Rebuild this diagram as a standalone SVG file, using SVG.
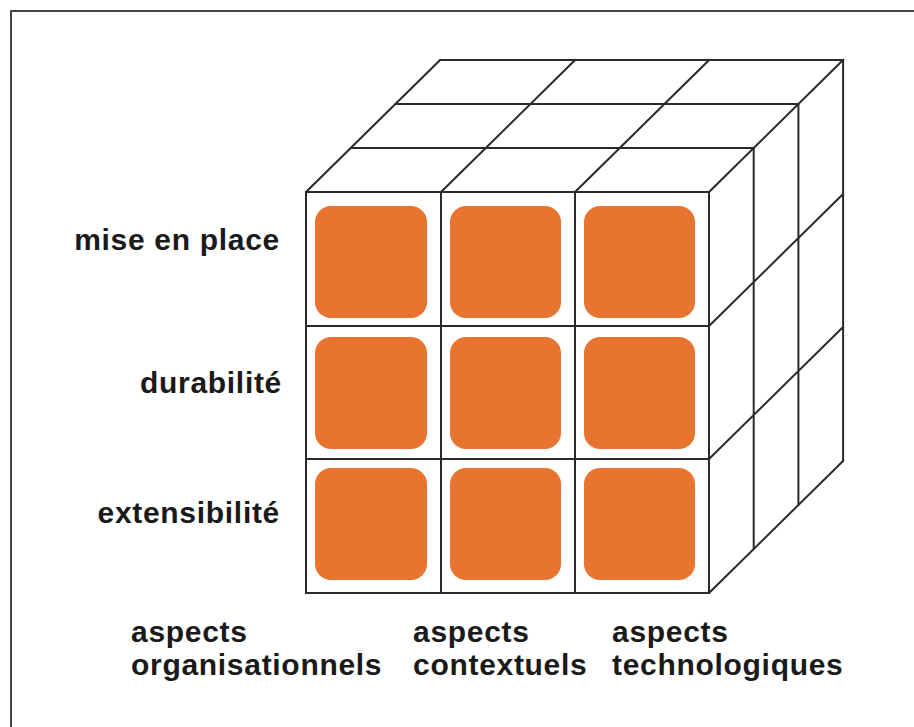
<svg xmlns="http://www.w3.org/2000/svg" width="914" height="727" viewBox="0 0 914 727">
<style>
.frame{fill:none;stroke:#444;stroke-width:2}
.edge{fill:none;stroke:#2a2a2a;stroke-width:2;stroke-linejoin:miter;stroke-linecap:square}
.tile{fill:#E97430}
.lbl{font-family:"Liberation Sans",Arial,sans-serif;font-weight:bold;font-size:30px;letter-spacing:0.7px;fill:#1a1a1a}
</style>
<rect width="914" height="727" fill="#fff"/>
<g id="frame">
<path class="frame" d="M11,727 V11 H914"/>
</g>
<g id="cube">
<path class="edge" d="M306,192 H709 V593 H306 Z M441,192 V593 M575,192 V593 M306,326 H709 M306,459 H709"/>
<path class="edge" d="M350.7,148 H753.7 M395.4,104 H798.4 M440.1,60 H843.1 M306,192 L440.1,60 M441,192 L575.1,60 M575,192 L709.1,60 M709,192 L843.1,60"/>
<path class="edge" d="M753.7,148 V549 M798.4,104 V505 M843.1,60 V461 M709,326 L843.1,194 M709,459 L843.1,327 M709,593 L843.1,461"/>
</g>
<g id="tiles">
<rect id="t11" class="tile" x="315" y="206" width="112" height="112" rx="16"/>
<rect id="t12" class="tile" x="450" y="206" width="111" height="112" rx="16"/>
<rect id="t13" class="tile" x="584" y="206" width="111" height="112" rx="16"/>
<rect id="t21" class="tile" x="315" y="337" width="112" height="112" rx="16"/>
<rect id="t22" class="tile" x="450" y="337" width="111" height="112" rx="16"/>
<rect id="t23" class="tile" x="584" y="337" width="111" height="112" rx="16"/>
<rect id="t31" class="tile" x="315" y="468" width="112" height="112" rx="16"/>
<rect id="t32" class="tile" x="450" y="468" width="111" height="112" rx="16"/>
<rect id="t33" class="tile" x="584" y="468" width="111" height="112" rx="16"/>
</g>
<g id="row-labels">
<text id="lbl-mise" class="lbl" x="280" y="250" text-anchor="end">mise en place</text>
<text id="lbl-dura" class="lbl" x="282" y="393" text-anchor="end">durabilité</text>
<text id="lbl-ext" class="lbl" x="280" y="523" text-anchor="end">extensibilité</text>
</g>
<g id="col-labels">
<text id="lbl-org" class="lbl" x="131" y="642"><tspan x="131">aspects</tspan><tspan x="131" y="675">organisationnels</tspan></text>
<text id="lbl-ctx" class="lbl" x="413" y="642"><tspan x="413">aspects</tspan><tspan x="413" y="675">contextuels</tspan></text>
<text id="lbl-tech" class="lbl" x="612" y="642"><tspan x="612">aspects</tspan><tspan x="612" y="675">technologiques</tspan></text>
</g>
<g id="connectors"/>
</svg>
